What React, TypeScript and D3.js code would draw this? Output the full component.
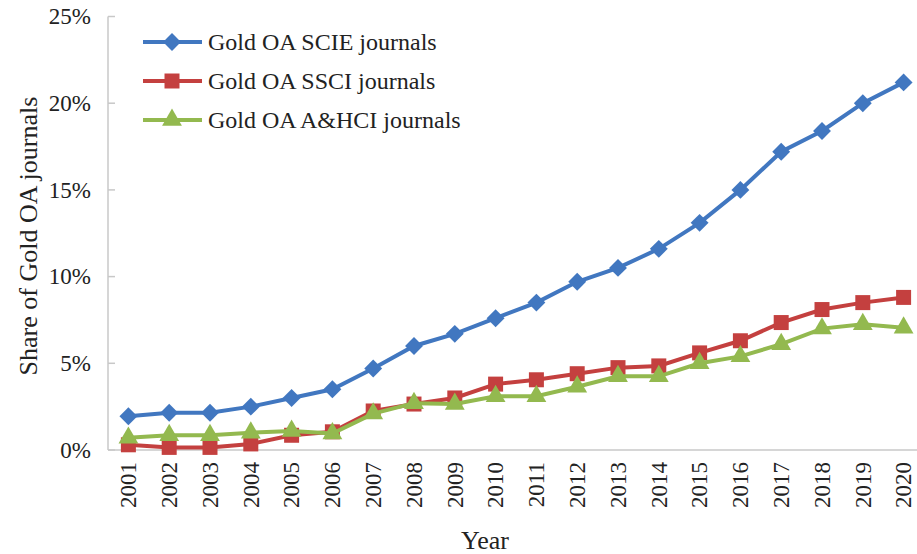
import React, { FC } from "react"
import { scaleLinear, scalePoint, line, symbol, symbolSquare, symbolTriangle } from "d3"

const years = [
  "2001", "2002", "2003", "2004", "2005", "2006", "2007", "2008", "2009", "2010",
  "2011", "2012", "2013", "2014", "2015", "2016", "2017", "2018", "2019", "2020",
]
const scieValues = [1.95, 2.15, 2.15, 2.5, 3.0, 3.5, 4.7, 6.0, 6.7, 7.6, 8.5, 9.7, 10.5, 11.6, 13.1, 15.0, 17.2, 18.4, 20.0, 21.2]
const ssciValues = [0.3, 0.15, 0.15, 0.35, 0.85, 1.05, 2.25, 2.65, 3.0, 3.8, 4.05, 4.4, 4.75, 4.85, 5.6, 6.3, 7.35, 8.1, 8.5, 8.8]
const ahciValues = [0.7, 0.85, 0.85, 1.0, 1.1, 0.95, 2.1, 2.7, 2.65, 3.1, 3.1, 3.65, 4.25, 4.25, 5.0, 5.4, 6.1, 7.0, 7.25, 7.05]
const yTicks = [0, 5, 10, 15, 20, 25]
const seriesNames = ["Gold OA SCIE journals", "Gold OA SSCI journals", "Gold OA A&HCI journals"]

// diamond = square turned 45 degrees
const series = [
  { name: seriesNames[0], values: scieValues, color: "#4177c0", shape: symbolSquare, size: 160, rotate: 45 },
  { name: seriesNames[1], values: ssciValues, color: "#c4403f", shape: symbolSquare, size: 225, rotate: 0 },
  { name: seriesNames[2], values: ahciValues, color: "#93b94f", shape: symbolTriangle, size: 170, rotate: 0 },
]

const App: FC = () => {
  const width = 917
  const height = 554
  const font = "'Liberation Serif', 'Times New Roman', serif"

  // scales
  const xScale = scalePoint<string>().domain(years).range([108, 924]).padding(0.5)
  const yScale = scaleLinear().domain([0, 25]).range([450, 16.5])

  const lineGen = line<number>()
    .x((_, i) => xScale(years[i]) ?? 0)
    .y((d) => yScale(d))

  return (
    <svg
      width={width}
      height={height}
      style={{ position: "absolute", left: 0, top: 0, background: "#fff" }}
      fontFamily={font}
    >
      {/* y axis */}
      <line x1={108} x2={108} y1={yScale(25)} y2={yScale(0)} stroke="#c8c8c8" strokeWidth={1.5} />
      {yTicks.map((t) => (
        <g key={t}>
          <line x1={108} x2={115} y1={yScale(t)} y2={yScale(t)} stroke="#c8c8c8" strokeWidth={1.5} />
          <text x={91} y={yScale(t)} dy="0.34em" textAnchor="end" fontSize={23} fill="#222">
            {t}%
          </text>
        </g>
      ))}

      {/* x axis */}
      <line x1={108} x2={width} y1={yScale(0)} y2={yScale(0)} stroke="#c8c8c8" strokeWidth={1.5} />
      {years.map((y) => (
        <text
          key={y}
          transform={`translate(${xScale(y)},${462}) rotate(-90)`}
          dy="0.34em"
          textAnchor="end"
          fontSize={23}
          fill="#222"
        >
          {y}
        </text>
      ))}

      {/* axis titles */}
      <text
        transform="translate(28,236) rotate(-90)"
        dy="0.34em"
        textAnchor="middle"
        fontSize={26}
        fill="#222"
      >
        Share of Gold OA journals
      </text>
      <text x={485} y={540} dy="0.34em" textAnchor="middle" fontSize={26} fill="#222">
        Year
      </text>

      {/* series */}
      {series.map((s) => (
        <g key={s.name}>
          <path d={lineGen(s.values) ?? ""} fill="none" stroke={s.color} strokeWidth={4} />
          {s.values.map((v, i) => (
            <path
              key={i}
              d={symbol(s.shape, s.size)() ?? ""}
              transform={`translate(${xScale(years[i])},${yScale(v)}) rotate(${s.rotate})`}
              fill={s.color}
            />
          ))}
        </g>
      ))}

      {/* legend */}
      {series.map((s, i) => {
        const ly = 42 + i * 39
        return (
          <g key={s.name}>
            <line x1={143} x2={202} y1={ly} y2={ly} stroke={s.color} strokeWidth={4} />
            <path
              d={symbol(s.shape, s.size)() ?? ""}
              transform={`translate(172,${ly}) rotate(${s.rotate})`}
              fill={s.color}
            />
            <text x={208} y={ly} dy="0.34em" fontSize={24} fill="#222">
              {s.name}
            </text>
          </g>
        )
      })}
    </svg>
  )
}

export default App
